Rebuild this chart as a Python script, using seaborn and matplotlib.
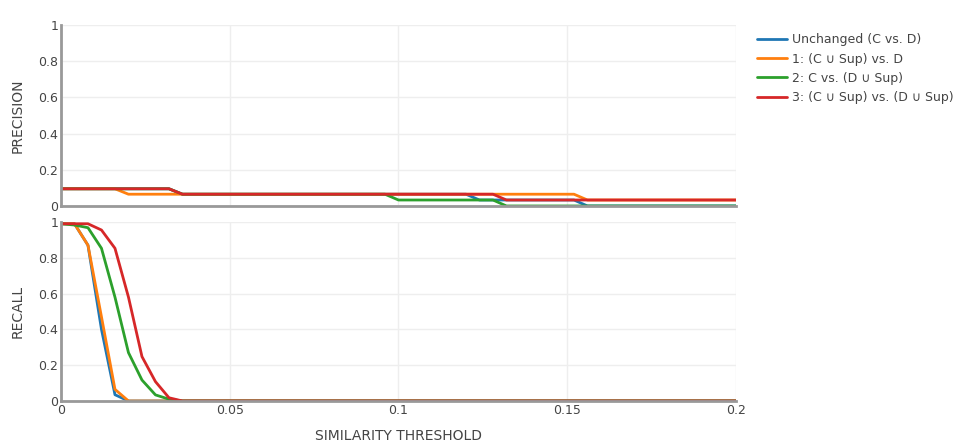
import pandas as pd
import seaborn as sns
import matplotlib.pyplot as plt
from matplotlib.ticker import FuncFormatter

# series names / colours
names = ["Unchanged (C vs. D)", "1: (C \u222a Sup) vs. D",
         "2: C vs. (D \u222a Sup)", "3: (C \u222a Sup) vs. (D \u222a Sup)"]
colors = ["#1f77b4", "#ff7f0e", "#2ca02c", "#d62728"]

# precision: breakpoints of each step curve (threshold, value)
prec_x_unchanged = [0, 0.032, 0.036, 0.12, 0.124, 0.152, 0.156, 0.2]
prec_y_unchanged = [0.095, 0.095, 0.065, 0.065, 0.033, 0.033, 0, 0]
prec_x_c_sup = [0, 0.016, 0.02, 0.152, 0.156, 0.2]
prec_y_c_sup = [0.095, 0.095, 0.065, 0.065, 0.033, 0.033]
prec_x_d_sup = [0, 0.032, 0.036, 0.096, 0.1, 0.128, 0.132, 0.2]
prec_y_d_sup = [0.095, 0.095, 0.065, 0.065, 0.033, 0.033, 0, 0]
prec_x_both = [0, 0.032, 0.036, 0.128, 0.132, 0.2]
prec_y_both = [0.095, 0.095, 0.065, 0.065, 0.033, 0.033]

# recall
rec_x_unchanged = [0, 0.004, 0.008, 0.012, 0.016, 0.02, 0.2]
rec_y_unchanged = [0.99, 0.99, 0.87, 0.40, 0.035, 0, 0]
rec_x_c_sup = [0, 0.004, 0.008, 0.012, 0.016, 0.02, 0.2]
rec_y_c_sup = [0.99, 0.99, 0.87, 0.47, 0.065, 0, 0]
rec_x_d_sup = [0, 0.004, 0.008, 0.012, 0.016, 0.02, 0.024, 0.028, 0.032, 0.036, 0.2]
rec_y_d_sup = [0.99, 0.983, 0.968, 0.853, 0.58, 0.27, 0.117, 0.034, 0.01, 0, 0]
rec_x_both = [0, 0.004, 0.008, 0.012, 0.016, 0.02, 0.024, 0.028, 0.032, 0.036, 0.2]
rec_y_both = [0.99, 0.99, 0.99, 0.955, 0.853, 0.58, 0.248, 0.108, 0.018, 0, 0]


def to_frame(xs, ys):
    parts = []
    for name, x, y in zip(names, xs, ys):
        parts.append(pd.DataFrame({"threshold": x, "value": y, "series": name}))
    return pd.concat(parts, ignore_index=True)


prec = to_frame([prec_x_unchanged, prec_x_c_sup, prec_x_d_sup, prec_x_both],
                [prec_y_unchanged, prec_y_c_sup, prec_y_d_sup, prec_y_both])
rec = to_frame([rec_x_unchanged, rec_x_c_sup, rec_x_d_sup, rec_x_both],
               [rec_y_unchanged, rec_y_c_sup, rec_y_d_sup, rec_y_both])

sns.set_style("white")
plt.rcParams["font.family"] = ["DejaVu Sans"]
txt = "#444444"

fig = plt.figure(figsize=(9.74, 4.42), dpi=100)
ax1 = fig.add_axes([0.0626, 0.534, 0.693, 0.4094])
ax2 = fig.add_axes([0.0626, 0.0928, 0.693, 0.405])

palette = dict(zip(names, colors))
sns.lineplot(data=prec, x="threshold", y="value", hue="series", palette=palette,
             sort=False, estimator=None, linewidth=2, ax=ax1)
sns.lineplot(data=rec, x="threshold", y="value", hue="series", palette=palette,
             sort=False, estimator=None, linewidth=2, ax=ax2, legend=False)

fmt = FuncFormatter(lambda v, p: f"{v:g}")
for ax, lab in [(ax1, "PRECISION"), (ax2, "RECALL")]:
    ax.set_xlim(0, 0.2)
    ax.set_ylim(0, 1)
    ax.set_xticks([0, 0.05, 0.1, 0.15, 0.2])
    ax.set_yticks([0, 0.2, 0.4, 0.6, 0.8, 1])
    ax.xaxis.set_major_formatter(fmt)
    ax.yaxis.set_major_formatter(fmt)
    ax.grid(True, color="#eeeeee", linewidth=1)
    ax.set_axisbelow(True)
    for s in ["top", "right"]:
        ax.spines[s].set_visible(False)
    for s in ["left", "bottom"]:
        ax.spines[s].set_color("#999999")
        ax.spines[s].set_linewidth(2)
    ax.tick_params(length=0, labelsize=9, labelcolor=txt, pad=2)
    ax.set_ylabel(lab, color=txt, fontsize=10)
    ax.yaxis.set_label_coords(-0.054, 0.5)
    ax.set_xlabel("")

ax1.tick_params(labelbottom=False)
ax2.set_xlabel("SIMILARITY THRESHOLD", color=txt, fontsize=10, labelpad=9)

handles, labels = ax1.get_legend_handles_labels()
ax1.legend_.remove()
fig.legend(handles, labels, loc="upper left", bbox_to_anchor=(0.766, 0.95),
           frameon=False, fontsize=9, labelcolor=txt, handlelength=2.4,
           handletextpad=0.4, labelspacing=0.5)

fig.savefig("out.png", dpi=100)
